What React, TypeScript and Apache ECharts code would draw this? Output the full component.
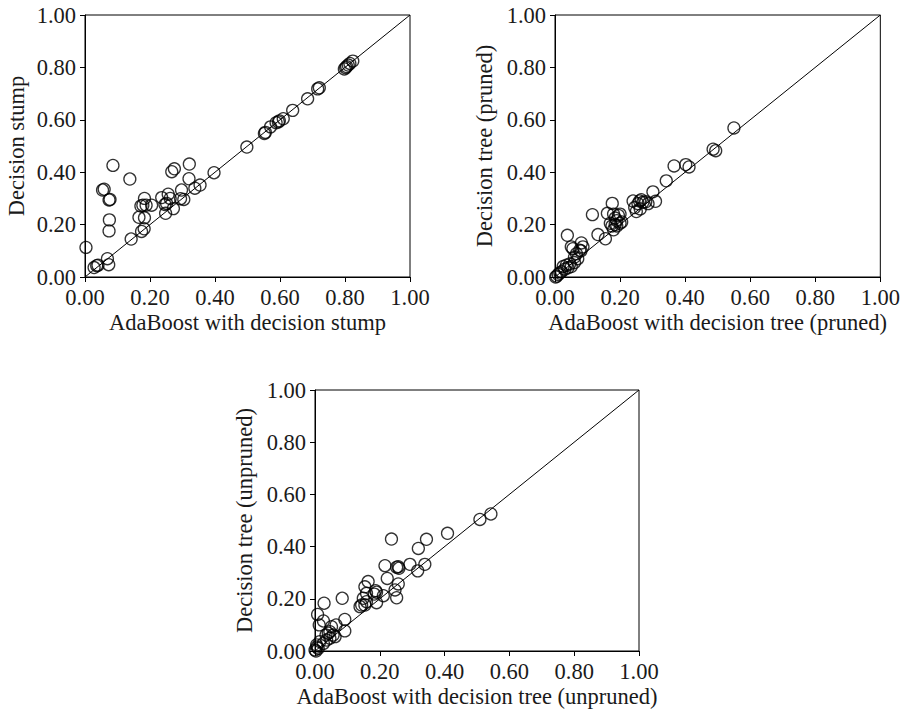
import React, { useEffect, useRef } from "react";
import * as echarts from "echarts";

// Panel 1: AdaBoost with decision stump vs Decision stump
const stumpX = [0.003, 0.028, 0.036, 0.040, 0.069, 0.073, 0.074, 0.075, 0.074, 0.077, 0.054, 0.059, 0.086, 0.138, 0.142, 0.166, 0.172, 0.178, 0.183, 0.174, 0.182, 0.183, 0.188, 0.205, 0.236, 0.248, 0.246, 0.251, 0.256, 0.267, 0.275, 0.272, 0.262, 0.294, 0.297, 0.304, 0.321, 0.320, 0.338, 0.354, 0.397, 0.498, 0.552, 0.555, 0.571, 0.588, 0.595, 0.598, 0.610, 0.639, 0.685, 0.716, 0.721, 0.798, 0.802, 0.805, 0.810, 0.815, 0.824];
const stumpY = [0.113, 0.036, 0.043, 0.045, 0.070, 0.047, 0.176, 0.218, 0.294, 0.296, 0.332, 0.335, 0.426, 0.374, 0.145, 0.228, 0.271, 0.274, 0.300, 0.174, 0.184, 0.226, 0.274, 0.274, 0.303, 0.243, 0.277, 0.281, 0.316, 0.402, 0.413, 0.261, 0.300, 0.299, 0.332, 0.296, 0.431, 0.375, 0.339, 0.351, 0.398, 0.496, 0.548, 0.552, 0.573, 0.589, 0.592, 0.596, 0.604, 0.636, 0.680, 0.718, 0.722, 0.794, 0.799, 0.803, 0.809, 0.815, 0.824];

// Panel 2: AdaBoost with decision tree (pruned) vs Decision tree (pruned)
const prunedX = [0.550, 0.486, 0.494, 0.402, 0.412, 0.366, 0.342, 0.301, 0.309, 0.286, 0.279, 0.265, 0.260, 0.255, 0.250, 0.245, 0.240, 0.270, 0.262, 0.115, 0.132, 0.155, 0.161, 0.176, 0.180, 0.185, 0.190, 0.195, 0.200, 0.175, 0.180, 0.185, 0.190, 0.200, 0.205, 0.170, 0.038, 0.050, 0.055, 0.081, 0.086, 0.076, 0.066, 0.060, 0.070, 0.080, 0.045, 0.050, 0.035, 0.030, 0.025, 0.020, 0.015, 0.010, 0.005, 0.002, 0.040, 0.060];
const prunedY = [0.569, 0.488, 0.482, 0.429, 0.420, 0.424, 0.367, 0.325, 0.289, 0.280, 0.287, 0.295, 0.290, 0.280, 0.250, 0.265, 0.290, 0.285, 0.260, 0.238, 0.162, 0.146, 0.243, 0.281, 0.240, 0.225, 0.215, 0.235, 0.240, 0.195, 0.180, 0.200, 0.195, 0.205, 0.210, 0.205, 0.159, 0.115, 0.108, 0.130, 0.115, 0.102, 0.089, 0.076, 0.070, 0.100, 0.050, 0.040, 0.045, 0.030, 0.040, 0.020, 0.015, 0.010, 0.003, 0.000, 0.035, 0.055];

// Panel 3: AdaBoost with decision tree (unpruned) vs Decision tree (unpruned)
const unprunedX = [0.543, 0.509, 0.409, 0.344, 0.319, 0.236, 0.339, 0.317, 0.293, 0.257, 0.252, 0.259, 0.216, 0.223, 0.257, 0.247, 0.252, 0.211, 0.187, 0.190, 0.183, 0.190, 0.164, 0.154, 0.159, 0.149, 0.144, 0.154, 0.139, 0.159, 0.084, 0.092, 0.092, 0.065, 0.028, 0.008, 0.013, 0.026, 0.051, 0.046, 0.041, 0.034, 0.056, 0.036, 0.015, 0.005, 0.000, 0.010, 0.026, 0.046, 0.062, 0.003, 0.006];
const unprunedY = [0.525, 0.504, 0.451, 0.428, 0.393, 0.429, 0.332, 0.307, 0.332, 0.323, 0.321, 0.317, 0.327, 0.278, 0.257, 0.234, 0.204, 0.212, 0.231, 0.225, 0.218, 0.185, 0.266, 0.246, 0.221, 0.202, 0.176, 0.176, 0.170, 0.189, 0.202, 0.121, 0.077, 0.100, 0.183, 0.140, 0.100, 0.115, 0.093, 0.074, 0.068, 0.061, 0.061, 0.042, 0.036, 0.023, 0.004, 0.010, 0.029, 0.049, 0.055, 0.000, 0.015];

const diagonal = [[0, 0], [1, 1]];

const xTitles = ["AdaBoost with decision stump", "AdaBoost with decision tree (pruned)", "AdaBoost with decision tree (unpruned)"];
const yTitles = ["Decision stump", "Decision tree (pruned)", "Decision tree (unpruned)"];

const FONT = "Liberation Serif";

export default function App() {
  const ref = useRef<HTMLDivElement>(null);
  useEffect(() => {
    if (!ref.current) return;
    const chart = echarts.init(ref.current, undefined, { renderer: "svg" });
    const grids = [
      { left: 85, top: 15, width: 325, height: 262 },
      { left: 555, top: 15, width: 326, height: 262 },
      { left: 315, top: 390, width: 324, height: 261 },
    ];
    const yGaps = [57, 59, 59];
    const xs = [stumpX, prunedX, unprunedX];
    const ys = [stumpY, prunedY, unprunedY];
    const axisCommon = {
      type: "value" as const,
      min: 0,
      max: 1,
      interval: 0.2,
      splitLine: { show: false },
      axisLine: { show: true, onZero: false, lineStyle: { color: "#000", width: 1 } },
      axisTick: { show: true, inside: false, length: 5, lineStyle: { color: "#000", width: 1 } },
      axisLabel: {
        color: "#1a1a1a",
        fontFamily: FONT,
        fontSize: 22.5,
        margin: 9,
        formatter: (v: number) => v.toFixed(2),
      },
      nameLocation: "middle" as const,
      nameTextStyle: { color: "#1a1a1a", fontFamily: FONT, fontSize: 22.5 },
    };
    const series: any[] = [];
    for (let i = 0; i < 3; i++) {
      series.push({
        type: "line",
        xAxisIndex: i,
        yAxisIndex: i,
        data: diagonal,
        showSymbol: false,
        silent: true,
        lineStyle: { color: "#000", width: 1 },
        z: 1,
      });
      series.push({
        type: "scatter",
        xAxisIndex: i,
        yAxisIndex: i,
        data: xs[i].map((x, j) => [x, ys[i][j]]),
        symbol: "circle",
        symbolSize: 12,
        itemStyle: { color: "rgba(0,0,0,0)", borderColor: "#000", borderWidth: 1.3 },
        z: 2,
      });
    }
    chart.setOption({
      animation: false,
      backgroundColor: "#fff",
      grid: grids.map((g) => ({ ...g, show: true, borderColor: "#000", borderWidth: 1, backgroundColor: "transparent" })),
      xAxis: grids.map((_, i) => ({ ...axisCommon, gridIndex: i, name: xTitles[i], nameGap: 34 })),
      yAxis: grids.map((_, i) => ({ ...axisCommon, gridIndex: i, name: yTitles[i], nameGap: yGaps[i] })),
      series,
    });
    return () => chart.dispose();
  }, []);
  return <div ref={ref} style={{ position: "fixed", left: 0, top: 0, width: 903, height: 715 }} />;
}
